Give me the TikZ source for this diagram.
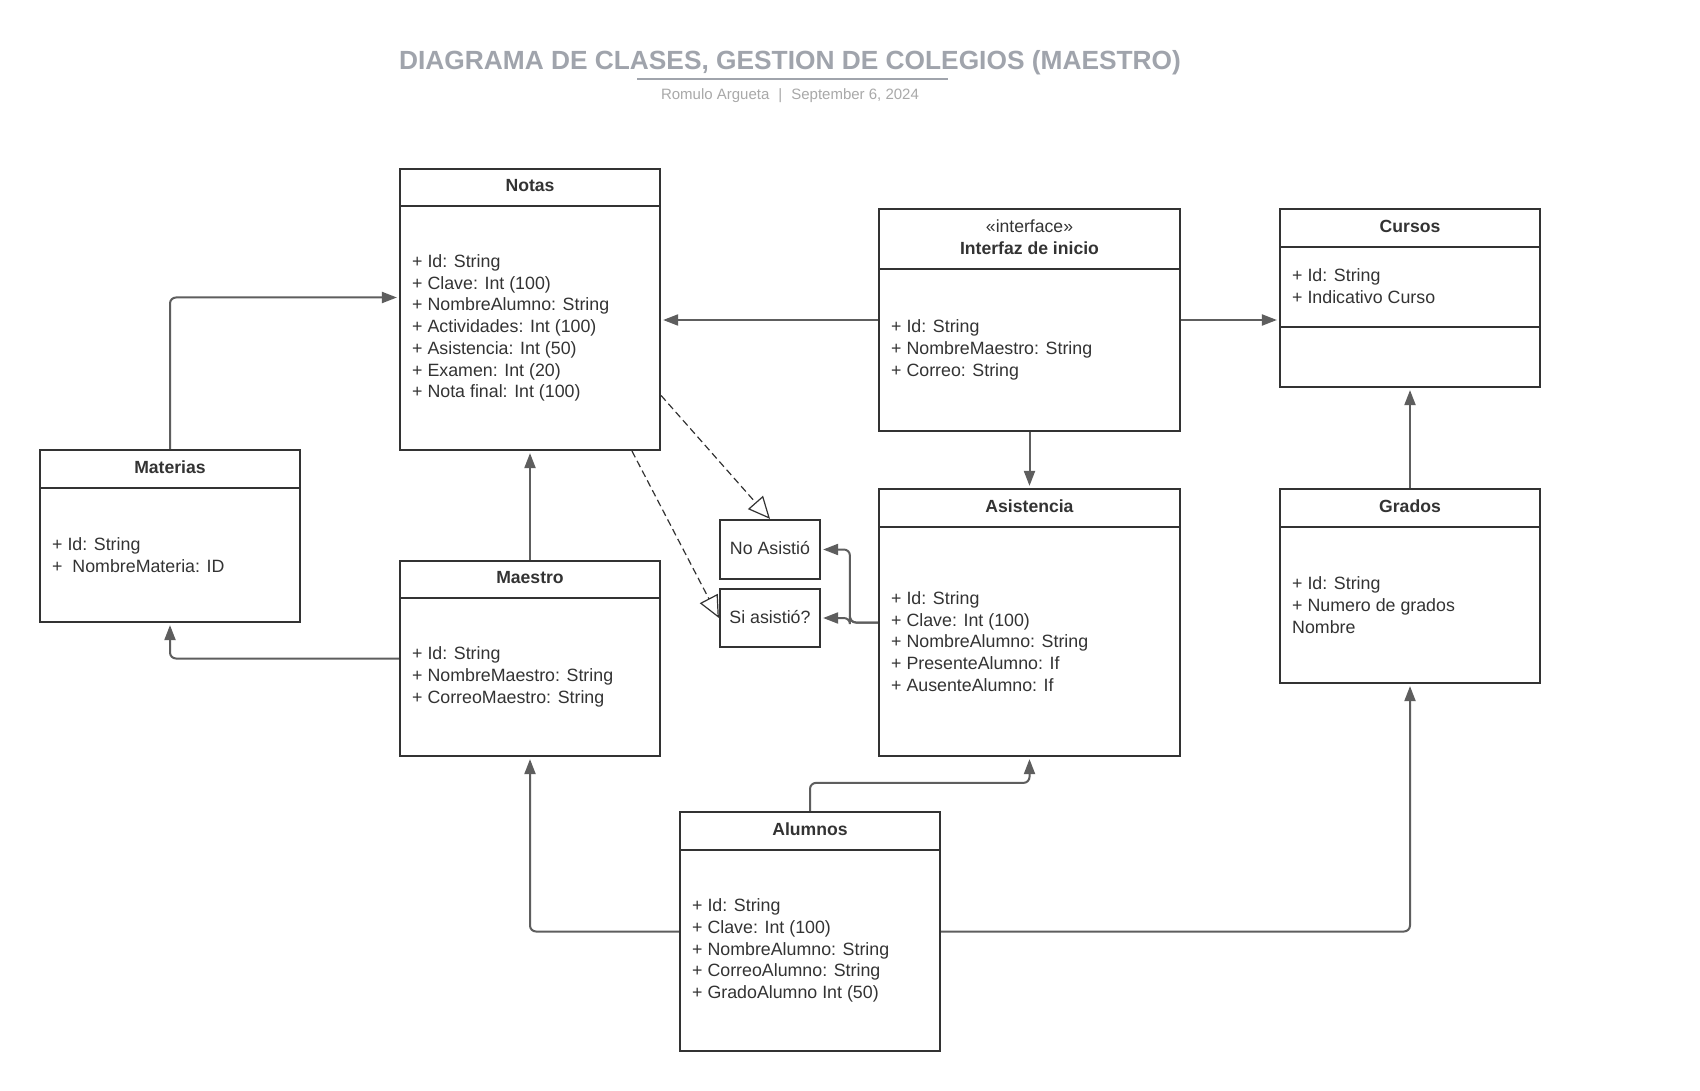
\documentclass[tikz,border=0pt]{standalone}
\usepackage{fontspec}
\setmainfont{Liberation Sans}
\usetikzlibrary{arrows.meta,calc,fit}
\definecolor{boxc}{HTML}{333333}
\definecolor{conc}{HTML}{5E5E5E}
\definecolor{titc}{HTML}{A0A4AC}
\definecolor{subc}{HTML}{A9A9A9}
\tikzset{
 cbox/.style={draw=boxc, line width=2.2pt, inner sep=0pt, fill=white},
 cdiv/.style={draw=boxc, line width=2.2pt},
 hdr/.style={font=\fontsize{17.6}{21.7}\selectfont\bfseries, text=boxc, align=center, inner sep=0pt, yshift=2pt},
 bodyt/.style={font=\fontsize{17.8}{21.7}\selectfont, text=boxc, align=left, inner sep=0pt, anchor=west},
 conn/.style={draw=conc, line width=2pt, rounded corners=6pt, -{Triangle[length=15pt,width=11pt]}, shorten >=2pt},
 real/.style={draw=boxc, line width=1.2pt, dash pattern=on 7pt off 4pt, -{Triangle[open,length=22pt,width=20pt,line width=1.2pt]}},
}
\newcommand{\classbox}[8]{%
  \coordinate (#1-nw) at (#2,#3);
  \coordinate (#1-se) at (#4,#5);
  \node[cbox, fit=(#1-nw)(#1-se)] (#1) {};
  \draw[cdiv] (#2,#6) -- (#4,#6);
  \node[hdr] (#1-h) at ($(#1-nw)!0.5!(#4,#6)$) {#7};
  \node[bodyt] (#1-b) at ($(#2,#6)!0.5!(#2,#5)+(12,0)$) {#8};
}
\begin{document}
\begin{tikzpicture}[x=1pt,y=-1pt]
\path[fill=white,use as bounding box] (0,0) rectangle (1700,1091);
% title
\node[font=\fontsize{26.3}{30}\selectfont\bfseries, text=titc, inner sep=0pt] (title) at (790,63) {DIAGRAMA DE CLASES, GESTION DE COLEGIOS (MAESTRO)};
\coordinate (ul1) at (637,79);
\coordinate (ul2) at (948,79);
\draw[titc, line width=2pt] (ul1) -- (ul2);
\node[font=\fontsize{15}{18}\selectfont, text=subc, inner sep=0pt] (sub) at (790,96) {Romulo Argueta\hspace{9pt}|\hspace{9pt}September 6, 2024};
% classes
\classbox{notas}{400}{169}{660}{450}{206}{Notas}{+ Id: String\\+ Clave: Int (100)\\+ NombreAlumno: String\\+ Actividades: Int (100)\\+ Asistencia: Int (50)\\+ Examen: Int (20)\\+ Nota final: Int (100)}
\classbox{materias}{40}{450}{300}{622}{488}{Materias}{+ Id: String\\+\ \ NombreMateria: ID}
\classbox{maestro}{400}{561}{660}{756}{598}{Maestro}{+ Id: String\\+ NombreMaestro: String\\+ CorreoMaestro: String}
\classbox{interfaz}{879}{209}{1180}{431}{269}{{\mdseries «interface»}\\Interfaz de inicio}{+ Id: String\\+ NombreMaestro: String\\+ Correo: String}
% Cursos (three compartments)
\coordinate (cursos-nw) at (1280,209);
\coordinate (cursos-se) at (1540,387);
\node[cbox, fit=(cursos-nw)(cursos-se)] (cursos) {};
\draw[cdiv] (1280,247) -- (1540,247);
\draw[cdiv] (1280,327) -- (1540,327);
\node[hdr] (cursos-h) at ($(cursos-nw)!0.5!(1540,247)$) {Cursos};
\node[bodyt] (cursos-b) at (1292,286) {+ Id: String\\+ Indicativo Curso};
\classbox{asist}{879}{489}{1180}{756}{527}{Asistencia}{+ Id: String\\+ Clave: Int (100)\\+ NombreAlumno: String\\+ PresenteAlumno: If\\+ AusenteAlumno: If}
\classbox{grados}{1280}{489}{1540}{683}{527}{Grados}{+ Id: String\\+ Numero de grados\\Nombre}
\classbox{alumnos}{680}{812}{940}{1051}{850}{Alumnos}{+ Id: String\\+ Clave: Int (100)\\+ NombreAlumno: String\\+ CorreoAlumno: String\\+ GradoAlumno Int (50)}
\coordinate (noas-nw) at (720,520);
\coordinate (noas-se) at (820,579);
\node[cbox, fit=(noas-nw)(noas-se)] (noas) {};
\node[bodyt, anchor=center] (noas-t) at ([yshift=1pt]noas.center) {No Asistió};
\coordinate (siasi-nw) at (720,589);
\coordinate (siasi-se) at (820,647);
\node[cbox, fit=(siasi-nw)(siasi-se)] (siasi) {};
\node[bodyt, anchor=center] (siasi-t) at ([yshift=1pt]siasi.center) {Si asistió?};
% connectors
\draw[conn] (materias.north) |- ([yshift=12pt]notas.west);
\draw[conn] (maestro.north) -- (notas.south);
\draw[conn] (interfaz.west) -- (interfaz.west -| notas.east);
\draw[conn] (interfaz.east) -- (interfaz.east -| cursos.west);
\draw[conn] (interfaz.south) -- (asist.north);
\draw[conn] (grados.north) -- (cursos.south);
\draw[conn] (maestro.west) -| (materias.south);
\draw[conn] (asist.west) -- ++(-28,0) |- (noas.east);
\draw[conn] (asist.west) -- ++(-28,0) |- (siasi.east);
\draw[conn] (alumnos.north) -- ++(0,-28) -| (asist.south);
\draw[conn] (alumnos.west) -| (maestro.south);
\draw[conn] (alumnos.east) -| (grados.south);
\draw[real] ([yshift=-86pt]notas.east) -- (noas.north);
\draw[real] ([xshift=102pt]notas.south) -- (siasi.west);
\end{tikzpicture}
\end{document}
